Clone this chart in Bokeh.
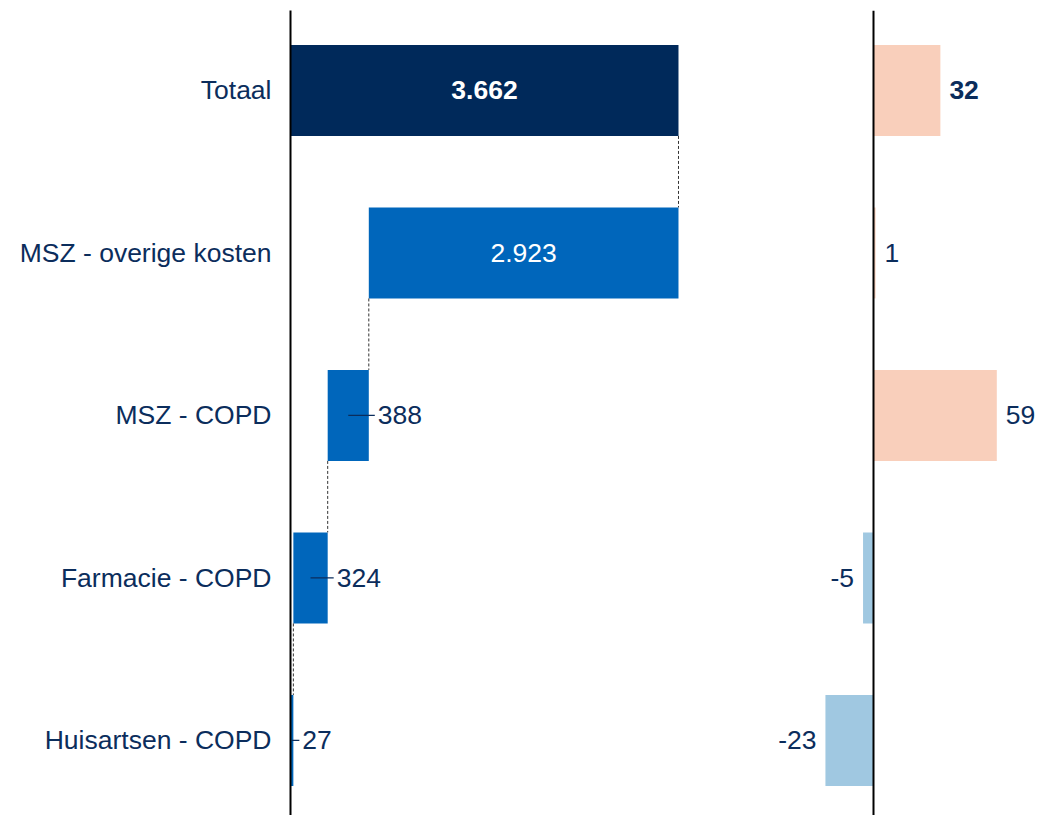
from bokeh.plotting import figure
from bokeh.models import ColumnDataSource, Range1d, FixedTicker, Span
from bokeh.layouts import row
from bokeh.embed import file_html
from bokeh.resources import INLINE
from bokeh.core.properties import value

categories = ["Totaal", "MSZ - overige kosten", "MSZ - COPD", "Farmacie - COPD", "Huisartsen - COPD"]
values = [3662, 2923, 388, 324, 27]
changes = [32, 1, 59, -5, -23]

NAVY = "#00295a"
TEXT = "#0b2d5c"
BLUE = "#0066bb"
SALMON = "#f9cfbb"
LIGHTBLUE = "#a0c8e1"
FONT = "Liberation Sans"
FS = "26.5px"


def fmt(v):
    return f"{v:,}".replace(",", ".")


n = len(categories)
ypos = [n - 1 - i for i in range(n)]
total = values[0]
lefts, rights = [0], [total]
run = total
for v in values[1:]:
    rights.append(run)
    run -= v
    lefts.append(run)

H = 0.56
FIG_H = 815
TOP = 10
y_range = Range1d(-0.462, 4.492)

# ---------- left panel ----------
LB = 290
LF_W = 430
x_end = 4058.5
px_per_unit = LF_W / x_end
left = figure(width=LB + LF_W, height=FIG_H, x_range=Range1d(0, x_end), y_range=y_range,
              output_backend="svg", toolbar_location=None, x_axis_type=None,
              min_border_left=LB, min_border_right=0, min_border_top=TOP, min_border_bottom=0)
left.outline_line_color = None
left.grid.visible = False
left.yaxis.ticker = FixedTicker(ticks=ypos)
left.yaxis.major_label_overrides = {y: c for y, c in zip(ypos, categories)}
left.yaxis.major_tick_line_color = None
left.yaxis.minor_tick_line_color = None
left.yaxis.axis_line_color = "black"
left.yaxis.axis_line_width = 2
left.yaxis.major_label_text_font = FONT
left.yaxis.major_label_text_font_size = FS
left.yaxis.major_label_text_color = TEXT
left.yaxis.major_label_standoff = 13

colors = [NAVY] + [BLUE] * (n - 1)
src = ColumnDataSource(dict(y=ypos, l=lefts, r=rights, c=colors))
left.hbar(y="y", left="l", right="r", height=H, fill_color="c", line_color=None, source=src)

# dashed connectors
cx, cy0, cy1 = [], [], []
for i in range(n - 1):
    cx.append(lefts[i] if i > 0 else rights[0])
    cy0.append(ypos[i] - H / 2)
    cy1.append(ypos[i + 1] + H / 2)
left.segment(x0=cx, y0=cy0, x1=cx, y1=cy1, line_color="#333333", line_width=1, line_dash="3 2")

# labels
in_b, in_n, out_x, out_y, out_t, ld_x0, ld_x1 = [], [], [], [], [], [], []
for i in range(n):
    w_px = (rights[i] - lefts[i]) * px_per_unit
    if w_px > 100:
        d = dict(x=(lefts[i] + rights[i]) / 2, y=ypos[i], t=fmt(values[i]))
        (in_b if i == 0 else in_n).append(d)
    else:
        out_x.append(rights[i])
        out_y.append(ypos[i])
        out_t.append(fmt(values[i]))
        ld_x0.append((lefts[i] + rights[i]) / 2)
        ld_x1.append(rights[i] + 6 / px_per_unit)

for lst, style in ((in_b, "bold"), (in_n, "normal")):
    if lst:
        left.text(x=[d["x"] for d in lst], y=[d["y"] for d in lst], text=[d["t"] for d in lst],
                  text_font=value(FONT), text_font_size=FS, text_color="white",
                  text_font_style=style, text_align="center", text_baseline="middle")

left.segment(x0=ld_x0, y0=out_y, x1=ld_x1, y1=out_y, line_color=TEXT, line_width=1.2)
left.text(x=out_x, y=out_y, text=out_t, x_offset=9, text_font=value(FONT), text_font_size=FS,
          text_color=TEXT, text_align="left", text_baseline="middle")

# ---------- right panel ----------
RF_W = 330
r_scale = 2.09
r_start = -153 / r_scale
right = figure(width=RF_W, height=FIG_H, x_range=Range1d(r_start, r_start + RF_W / r_scale),
               y_range=y_range, output_backend="svg", toolbar_location=None,
               x_axis_type=None, y_axis_type=None,
               min_border_left=0, min_border_right=0, min_border_top=TOP, min_border_bottom=0)
right.outline_line_color = None
right.grid.visible = False

ccol = [SALMON if c >= 0 else LIGHTBLUE for c in changes]
rsrc = ColumnDataSource(dict(y=ypos, v=changes, c=ccol))
right.hbar(y="y", left=0, right="v", height=H, fill_color="c", line_color=None, source=rsrc)
right.add_layout(Span(location=0, dimension="height", line_color="black", line_width=2))

for sel, align, off in ((lambda c: c >= 0, "left", 9), (lambda c: c < 0, "right", -9)):
    for bold in (True, False):
        idx = [i for i in range(n) if sel(changes[i]) and ((i == 0) == bold)]
        if not idx:
            continue
        right.text(x=[changes[i] for i in idx], y=[ypos[i] for i in idx],
                   text=[fmt(changes[i]) for i in idx], x_offset=off,
                   text_font=value(FONT), text_font_size=FS, text_color=TEXT,
                   text_font_style="bold" if bold else "normal",
                   text_align=align, text_baseline="middle")

layout = row(left, right)
open("out.html", "w").write(file_html(layout, INLINE))
